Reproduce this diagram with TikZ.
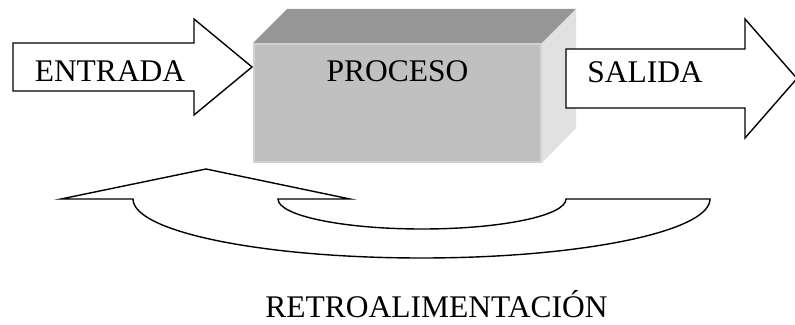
\documentclass[tikz,border=0pt]{standalone}
\usepackage{fontspec}
\setmainfont{Liberation Serif}
\usetikzlibrary{positioning}
\definecolor{caraFrente}{HTML}{C0C0C0}
\definecolor{caraBorde}{HTML}{D2D2D2}
\definecolor{caraArriba}{HTML}{969696}
\definecolor{caraLado}{HTML}{E1E1E1}
\tikzset{
flecha/.style={draw=black, line width=1.4pt, fill=white, line join=miter},
rotulo/.style={font=\fontsize{31.5}{36}\selectfont, anchor=base, inner sep=0pt},
}
\begin{document}
\begin{tikzpicture}[x=1pt, y=1pt]
  \useasboundingbox (0,0) rectangle (795,324);
  % caja del proceso
  \fill[caraArriba] (253,281) -- (287,315) -- (576,315) -- (542,281) -- cycle;
  \fill[caraLado] (542,281) -- (576,315) -- (576,196) -- (542,161) -- cycle;
  \filldraw[fill=caraFrente, draw=caraBorde, line width=1.5pt] (254,162) rectangle (541,280);
  % flechas
  \draw[flecha] (13,233) -- (13,281) -- (194,281) -- (194,305) -- (252,257)
    -- (194,209) -- (194,233) -- cycle;
  \draw[flecha] (566,216) -- (566,275) -- (745,275) -- (745,305) -- (797,245.5)
    -- (745,186) -- (745,216) -- cycle;
  \draw[flecha] (61,125) -- (206,155) -- (350,125) -- (278,125)
    arc[start angle=180, end angle=360, x radius=144, y radius=30] -- (710,125)
    arc[start angle=0, end angle=-180, x radius=288.5, y radius=59] -- cycle;
  % textos
  \node[rotulo] (entrada) at (110,242) {ENTRADA};
  \node[rotulo] (proceso) at (397.5,242) {PROCESO};
  \node[rotulo] (salida) at (645,241) {SALIDA};
  \node[rotulo] (retro) at (436.5,7) {RETROALIMENTACIÓN};
\end{tikzpicture}
\end{document}
